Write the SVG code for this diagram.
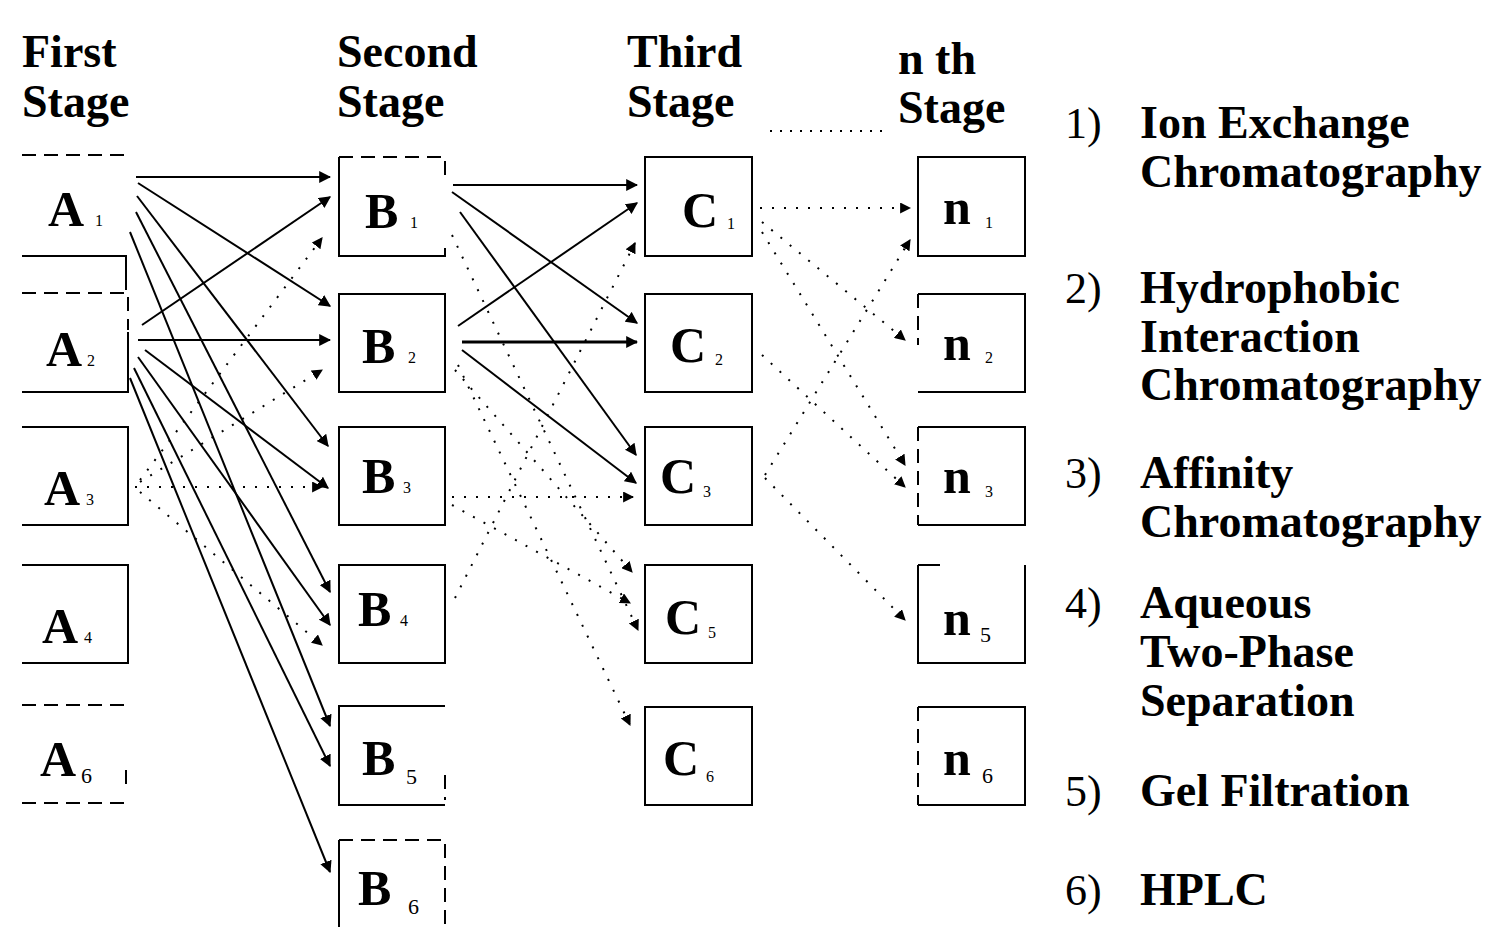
<svg xmlns="http://www.w3.org/2000/svg" width="1501" height="927" viewBox="0 0 1501 927">
<defs>
<marker id="ah" viewBox="0 0 10 10" refX="9" refY="5" markerWidth="12" markerHeight="12" markerUnits="userSpaceOnUse" orient="auto"><path d="M0,0 L10,5 L0,10 Z" fill="#000"/></marker>
<marker id="ahd" viewBox="0 0 10 10" refX="9" refY="5" markerWidth="11" markerHeight="11" markerUnits="userSpaceOnUse" orient="auto"><path d="M0,0 L10,5 L0,10 Z" fill="#000"/></marker>
</defs>
<style>
.hd{font-family:"Liberation Serif","Times New Roman",serif;font-weight:bold;font-size:46px;fill:#000}
.num{font-family:"Liberation Serif","Times New Roman",serif;font-size:44px;fill:#000}
.lb{font-family:"Liberation Serif","Times New Roman",serif;font-weight:bold;font-size:50px;fill:#000}
.sb{font-family:"Liberation Serif","Times New Roman",serif;font-size:16px;fill:#000}
.sbl{font-family:"Liberation Serif","Times New Roman",serif;font-size:22px;fill:#000}
.bx{fill:none;stroke:#000;stroke-width:2}
.dsh{fill:none;stroke:#000;stroke-width:2;stroke-dasharray:14 8}
.sc{fill:none;stroke:#000;stroke-width:2;marker-end:url(#ah)}
.sct{fill:none;stroke:#000;stroke-width:3;marker-end:url(#ah)}
.dc{fill:none;stroke:#000;stroke-width:2;stroke-dasharray:2 10;marker-end:url(#ahd)}
</style>
<rect width="1501" height="927" fill="#fff"/>

<g id="headers">
<text class="hd" x="22" y="67">First</text>
<text class="hd" x="22" y="117">Stage</text>
<text class="hd" x="337" y="67">Second</text>
<text class="hd" x="337" y="117">Stage</text>
<text class="hd" x="627" y="67">Third</text>
<text class="hd" x="627" y="117">Stage</text>
<text class="hd" x="898" y="74">n th</text>
<text class="hd" x="898" y="123">Stage</text>
<path d="M770,131 H886" fill="none" stroke="#000" stroke-width="2" stroke-dasharray="2 8"/>
</g>

<g id="legend">
<text class="num" x="1065" y="138">1)</text><text class="hd" x="1140" y="138">Ion Exchange</text>
<text class="hd" x="1140" y="187">Chromatography</text>
<text class="num" x="1065" y="303">2)</text><text class="hd" x="1140" y="303">Hydrophobic</text>
<text class="hd" x="1140" y="352">Interaction</text>
<text class="hd" x="1140" y="400">Chromatography</text>
<text class="num" x="1065" y="488">3)</text><text class="hd" x="1140" y="488">Affinity</text>
<text class="hd" x="1140" y="537">Chromatography</text>
<text class="num" x="1065" y="618">4)</text><text class="hd" x="1140" y="618">Aqueous</text>
<text class="hd" x="1140" y="667">Two-Phase</text>
<text class="hd" x="1140" y="716">Separation</text>
<text class="num" x="1065" y="806">5)</text><text class="hd" x="1140" y="806">Gel Filtration</text>
<text class="num" x="1065" y="905">6)</text><text class="hd" x="1140" y="905">HPLC</text>
</g>

<g id="connectors">
<!-- A to B solid -->
<path class="sc" d="M136,177 L330,177"/>
<path class="sc" d="M138,183 L330,306"/>
<path class="sc" d="M137,196 L328,446"/>
<path class="sc" d="M136,212 L330,592"/>
<path class="sc" d="M130,232 L330,726"/>
<path class="sc" d="M142,325 L330,197"/>
<path class="sc" d="M138,340 L330,340"/>
<path class="sc" d="M145,350 L328,488"/>
<path class="sc" d="M138,357 L330,625"/>
<path class="sc" d="M134,368 L330,766"/>
<path class="sc" d="M130,378 L330,872"/>
<!-- A to B dotted -->
<path class="dc" d="M140,480 L322,238"/>
<path class="dc" d="M140,482 L322,370"/>
<path class="dc" d="M135,487 L322,487"/>
<path class="dc" d="M140,492 L322,645"/>
<!-- B to C solid -->
<path class="sc" d="M453,185 L637,185"/>
<path class="sc" d="M458,326 L637,203"/>
<path class="sc" d="M452,192 L637,323"/>
<path class="sc" d="M460,212 L636,455"/>
<path class="sct" d="M462,342 L637,342"/>
<path class="sc" d="M462,350 L636,483"/>
<!-- B to C dotted -->
<path class="dc" d="M455,598 L635,243"/>
<path class="dc" d="M452,497 L633,497"/>
<path class="dc" d="M455,370 L632,572"/>
<path class="dc" d="M452,505 L630,603"/>
<path class="dc" d="M452,235 L638,630"/>
<path class="dc" d="M458,365 L630,725"/>
<!-- C to n dotted -->
<path class="dc" d="M760,208 L910,208"/>
<path class="dc" d="M765,475 L910,240"/>
<path class="dc" d="M762,222 L905,340"/>
<path class="dc" d="M762,232 L905,465"/>
<path class="dc" d="M762,355 L905,487"/>
<path class="dc" d="M765,478 L905,620"/>
</g>

<g id="A1"><path class="dsh" d="M22,155 H128"/><path class="bx" d="M22,256 H126 V290"/><text class="lb" x="48" y="226">A</text><text class="sb" x="95" y="226">1</text></g>
<g id="A2"><path class="dsh" d="M22,293 H128 V330"/><path class="bx" d="M128,332 V392 H22"/><text class="lb" x="46" y="366">A</text><text class="sb" x="87" y="366">2</text></g>
<g id="A3"><path class="bx" d="M22,427 H128 V525 H22"/><text class="lb" x="44" y="505">A</text><text class="sb" x="86" y="505">3</text></g>
<g id="A4"><path class="bx" d="M22,565 H128 V663 H22"/><text class="lb" x="42" y="643">A</text><text class="sb" x="84" y="643">4</text></g>
<g id="A6"><path class="dsh" d="M22,705 H126 M126,770 V790 M22,803 H126"/><text class="lb" x="40" y="776">A</text><text class="sbl" x="81" y="783">6</text></g>

<g id="B1"><path class="dsh" d="M339,157 H445 V180"/><path class="bx" d="M339,157 V256 H445 V248"/><text class="lb" x="365" y="228">B</text><text class="sb" x="410" y="228">1</text></g>
<g id="B2"><rect class="bx" x="339" y="294" width="106" height="98"/><text class="lb" x="362" y="363">B</text><text class="sb" x="408" y="363">2</text></g>
<g id="B3"><rect class="bx" x="339" y="427" width="106" height="98"/><text class="lb" x="362" y="493">B</text><text class="sb" x="403" y="493">3</text></g>
<g id="B4"><rect class="bx" x="339" y="565" width="106" height="98"/><text class="lb" x="358" y="626">B</text><text class="sb" x="400" y="626">4</text></g>
<g id="B5"><path class="bx" d="M445,706 H339 V805 H445"/><path class="dsh" d="M445,775 V800"/><text class="lb" x="362" y="775">B</text><text class="sbl" x="406" y="784">5</text></g>
<g id="B6"><path class="dsh" d="M339,840 H445 V927"/><path class="bx" d="M339,840 V927"/><text class="lb" x="358" y="905">B</text><text class="sbl" x="408" y="914">6</text></g>

<g id="C1"><rect class="bx" x="645" y="157" width="107" height="99"/><text class="lb" x="682" y="227">C</text><text class="sb" x="727" y="229">1</text></g>
<g id="C2"><rect class="bx" x="645" y="294" width="107" height="98"/><text class="lb" x="670" y="362">C</text><text class="sb" x="715" y="365">2</text></g>
<g id="C3"><rect class="bx" x="645" y="427" width="107" height="98"/><text class="lb" x="660" y="493">C</text><text class="sb" x="703" y="497">3</text></g>
<g id="C5"><rect class="bx" x="645" y="565" width="107" height="98"/><text class="lb" x="665" y="634">C</text><text class="sb" x="708" y="638">5</text></g>
<g id="C6"><rect class="bx" x="645" y="707" width="107" height="98"/><text class="lb" x="663" y="775">C</text><text class="sb" x="706" y="782">6</text></g>

<g id="n1"><rect class="bx" x="918" y="157" width="107" height="99"/><text class="lb" x="943" y="224">n</text><text class="sb" x="985" y="228">1</text></g>
<g id="n2"><path class="bx" d="M918,294 H1025 V392 H918"/><path class="dsh" d="M918,294 V345"/><text class="lb" x="943" y="360">n</text><text class="sb" x="985" y="363">2</text></g>
<g id="n3"><path class="bx" d="M918,427 H1025 V525 H918"/><path class="dsh" d="M918,427 V525"/><text class="lb" x="943" y="493">n</text><text class="sb" x="985" y="497">3</text></g>
<g id="n5"><path class="bx" d="M918,565 H940 M1025,565 V663 H918 V565"/><text class="lb" x="943" y="635">n</text><text class="sbl" x="980" y="642">5</text></g>
<g id="n6"><path class="bx" d="M918,707 H1025 V805 H918"/><path class="dsh" d="M918,707 V805"/><text class="lb" x="943" y="775">n</text><text class="sbl" x="982" y="783">6</text></g>
</svg>
